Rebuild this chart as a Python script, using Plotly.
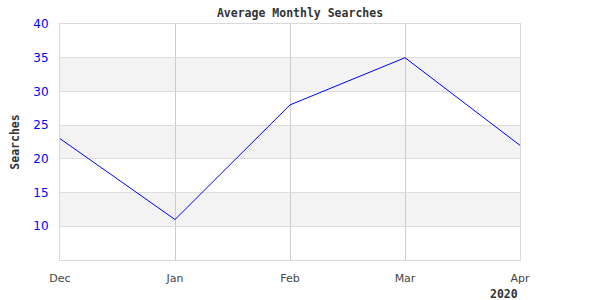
import plotly.graph_objects as go

months = ["Dec", "Jan", "Feb", "Mar", "Apr"]
searches = [23, 11, 28, 35, 22]
y_ticks = [10, 15, 20, 25, 30, 35, 40]
bands = [(10, 15), (20, 25), (30, 35)]
year_label = "2020"
title = "Average Monthly Searches"
y_title = "Searches"

mono = "DejaVu Sans Mono"
sans = "DejaVu Sans"

fig = go.Figure()
fig.add_trace(go.Scatter(x=months, y=searches, mode="lines",
                         line=dict(color="#0000ff", width=1), hoverinfo="skip"))

for lo, hi in bands:
    fig.add_shape(type="rect", xref="paper", yref="y", x0=0, x1=1, y0=lo, y1=hi,
                  fillcolor="#f3f3f3", line=dict(width=0), layer="below")

fig.update_layout(
    width=600, height=300,
    margin=dict(l=60, r=80, t=24, b=40),
    paper_bgcolor="white", plot_bgcolor="white",
    showlegend=False,
    title=dict(text="<b>" + title + "</b>", x=0.5, xanchor="center", y=0.957, yanchor="middle",
               font=dict(family=mono, size=11.5, color="#333")),
    xaxis=dict(type="category", range=[0, 4], showgrid=True, gridcolor="#cccccc", gridwidth=1,
               showline=True, linecolor="#d9d9d9", mirror=True, zeroline=False,
               ticks="", tickfont=dict(family=sans, size=11, color="#444"),
               ticklabelstandoff=8),
    yaxis=dict(range=[5, 40], tickvals=y_ticks, showgrid=True, gridcolor="#dddddd", gridwidth=1,
               showline=True, linecolor="#d9d9d9", mirror=True, zeroline=False,
               ticks="", tickfont=dict(family=sans, size=12, color="#0000ff"),
               ticklabelstandoff=8,
               title=dict(text="<b>" + y_title + "</b>", font=dict(family=mono, size=11.5, color="#333"),
                          standoff=11)),
    annotations=[dict(text="<b>" + year_label + "</b>", xref="paper", yref="paper",
                      x=1, y=-0.145, xanchor="right", yanchor="middle", showarrow=False,
                      font=dict(family=mono, size=11.5, color="#333"))],
)

fig.write_html("out.html")
